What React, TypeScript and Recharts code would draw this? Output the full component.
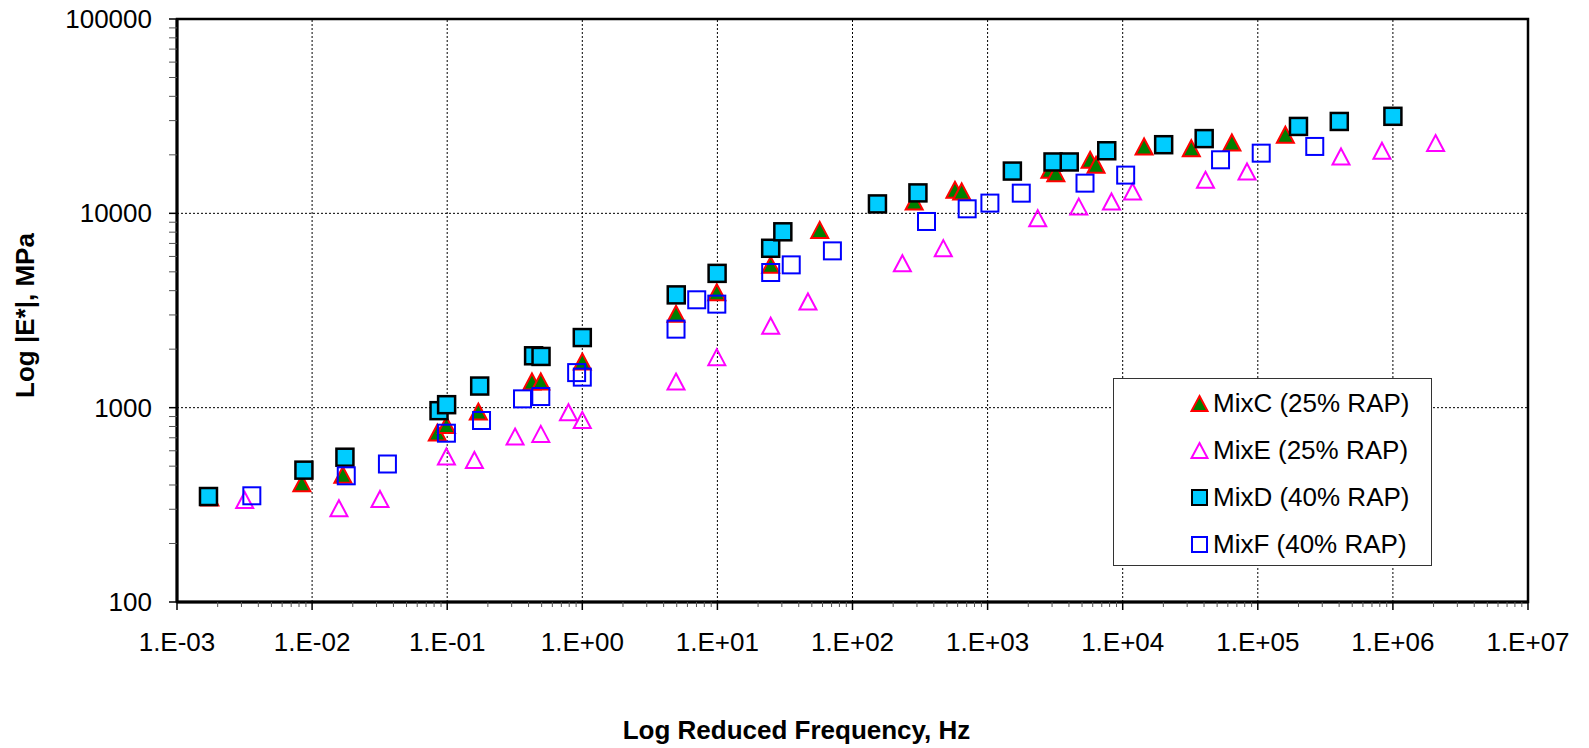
import {
  Legend,
  ReferenceArea,
  ReferenceLine,
  Scatter,
  ScatterChart,
  XAxis,
  YAxis,
} from "recharts";

const FONT = "'Liberation Sans', Arial, sans-serif";

// reduced frequency (Hz) and |E*| (MPa)
const mixCFreq = [0.00175, 0.0084, 0.0169, 0.0845, 0.0987, 0.17, 0.424, 0.493, 1.0, 4.94, 9.9, 24.8, 57.2, 286, 573, 643, 2890, 3200, 5740, 6350, 14400, 32200, 64300, 160000];
const mixCMod = [345, 408, 451, 744, 815, 955, 1364, 1364, 1727, 3040, 3930, 5430, 8220, 11510, 13210, 12960, 16760, 16100, 18850, 17780, 22090, 21640, 23160, 25380];

const mixEFreq = [0.00317, 0.0158, 0.0318, 0.0987, 0.159, 0.318, 0.493, 0.79, 1.0, 4.94, 9.9, 24.8, 46.8, 234, 470, 2350, 4730, 8260, 11830, 41000, 83200, 413000, 830000, 2070000];
const mixEMod = [335, 304, 339, 561, 538, 710, 733, 948, 865, 1362, 1820, 2640, 3520, 5540, 6620, 9440, 10830, 11510, 12960, 14880, 16420, 19630, 20990, 23000];

const mixDFreq = [0.00171, 0.0087, 0.0175, 0.087, 0.099, 0.174, 0.436, 0.495, 1.0, 4.96, 9.95, 24.8, 30.5, 153, 305, 1525, 3050, 4020, 7620, 20100, 40100, 200000, 401000, 1000000];
const mixDMod = [349, 477, 556, 965, 1036, 1292, 1849, 1835, 2295, 3805, 4910, 6610, 8035, 11180, 12740, 16500, 18380, 18380, 20990, 22550, 24240, 28000, 29700, 31570];

const mixFFreq = [0.00358, 0.0179, 0.0361, 0.0987, 0.1795, 0.361, 0.493, 0.908, 1.0, 4.94, 7.03, 9.9, 24.8, 35.2, 71, 353, 706, 1040, 1775, 5260, 10520, 53000, 106000, 264000];
const mixFMod = [352, 446, 513, 739, 859, 1110, 1141, 1515, 1436, 2535, 3590, 3410, 4960, 5430, 6410, 9080, 10550, 11290, 12700, 14300, 15730, 18860, 20400, 22090];

const xMajor = [1e-3, 1e-2, 1e-1, 1, 10, 100, 1e3, 1e4, 1e5, 1e6, 1e7];
const yMajor = [100, 1000, 10000, 100000];
const minorSteps = [2, 3, 4, 5, 6, 7, 8, 9];

const withMinor = (major: number[]) =>
  major.flatMap((m, i) => (i === major.length - 1 ? [m] : [m, ...minorSteps.map((s) => m * s)]));

const zip = (xs: number[], ys: number[]) => xs.map((x, i) => ({ x, y: ys[i] }));

const fmtX = (v: number) => {
  const e = Math.round(Math.log10(v));
  return `1.E${e < 0 ? "-" : "+"}${String(Math.abs(e)).padStart(2, "0")}`;
};

function XTick({ x, y, payload }: any) {
  const major = xMajor.includes(payload.value);
  return (
    <g>
      <line x1={x} x2={x} y1={y} y2={y + (major ? 8 : 5)} stroke={major ? "#000" : "#555"} strokeWidth={major ? 1.5 : 1} />
      {major && (
        <text x={x} y={y + 40} dy="0.35em" textAnchor="middle" fontSize={26} fontFamily={FONT} fill="#000">
          {fmtX(payload.value)}
        </text>
      )}
    </g>
  );
}

function YTick({ x, y, payload }: any) {
  const major = yMajor.includes(payload.value);
  return (
    <g>
      <line x1={x - 8} x2={x} y1={y} y2={y} stroke={major ? "#000" : "#555"} strokeWidth={major ? 1.5 : 1} />
      {major && (
        <text x={x - 25} y={y} dy="0.35em" textAnchor="end" fontSize={26} fontFamily={FONT} fill="#000">
          {payload.value}
        </text>
      )}
    </g>
  );
}

const triangle = (fill: string, stroke: string, w = 17, h = 16) => (p: any) => (
  <polygon
    points={`${p.cx},${p.cy - h / 2} ${p.cx + w / 2},${p.cy + h / 2} ${p.cx - w / 2},${p.cy + h / 2}`}
    fill={fill}
    stroke={stroke}
    strokeWidth={2}
  />
);

const square = (fill: string, stroke: string, s = 17, sw = 2) => (p: any) => (
  <rect x={p.cx - s / 2} y={p.cy - s / 2} width={s} height={s} fill={fill} stroke={stroke} strokeWidth={sw} />
);

const series = [
  { name: "MixC (25% RAP)", data: zip(mixCFreq, mixCMod), shape: triangle("#007F00", "#FF0000"), icon: triangle("#007F00", "#FF0000", 16, 15) },
  { name: "MixE (25% RAP)", data: zip(mixEFreq, mixEMod), shape: triangle("none", "#FF00FF"), icon: triangle("none", "#FF00FF", 16, 15) },
  { name: "MixD (40% RAP)", data: zip(mixDFreq, mixDMod), shape: square("#00CCFF", "#000", 17, 2.5), icon: square("#00CCFF", "#000", 15, 2) },
  { name: "MixF (40% RAP)", data: zip(mixFFreq, mixFMod), shape: square("none", "#0000FF"), icon: square("none", "#0000FF", 15, 2) },
];

function LegendBox() {
  return (
    <div
      style={{
        boxSizing: "border-box",
        width: 319,
        height: 188,
        border: "1px solid #333",
        background: "#fff",
        paddingTop: 1,
        fontFamily: FONT,
        fontSize: 26,
        color: "#000",
      }}
    >
      {series.map((s) => (
        <div key={s.name} style={{ height: 47, display: "flex", alignItems: "center", paddingLeft: 76 }}>
          <svg width={19} height={19} style={{ overflow: "visible" }}>
            {s.icon({ cx: 9.5, cy: 9.5 })}
          </svg>
          <span style={{ marginLeft: 4, whiteSpace: "nowrap" }}>{s.name}</span>
        </div>
      ))}
    </div>
  );
}

export default function App() {
  return (
    <div style={{ position: "absolute", left: 0, top: 0, background: "#fff" }}>
      <ScatterChart width={1589} height={748} margin={{ top: 19, right: 61, left: 0, bottom: 0 }}>
        <XAxis
          type="number"
          dataKey="x"
          scale="log"
          domain={[1e-3, 1e7]}
          allowDataOverflow
          ticks={withMinor(xMajor)}
          interval={0}
          tickSize={0}
          tickMargin={0}
          tickLine={false}
          tick={<XTick />}
          height={146}
          axisLine={{ stroke: "#000", strokeWidth: 3 }}
          label={{
            content: ({ viewBox }: any) => (
              <text
                x={viewBox.x + viewBox.width / 2 - 56}
                y={viewBox.y + viewBox.height - 9}
                textAnchor="middle"
                fontSize={26}
                fontWeight="bold"
                fontFamily={FONT}
                fill="#000"
              >
                Log Reduced Frequency, Hz
              </text>
            ),
          }}
        />
        <YAxis
          type="number"
          dataKey="y"
          scale="log"
          domain={[100, 100000]}
          allowDataOverflow
          ticks={withMinor(yMajor)}
          interval={0}
          tickSize={0}
          tickMargin={0}
          tickLine={false}
          tick={<YTick />}
          width={177}
          axisLine={{ stroke: "#000", strokeWidth: 3 }}
          label={{
            content: ({ viewBox }: any) => {
              const cx = viewBox.x + 24.5;
              const cy = viewBox.y + viewBox.height / 2 + 5;
              return (
                <text
                  x={cx}
                  y={cy}
                  dy="0.35em"
                  transform={`rotate(-90 ${cx} ${cy})`}
                  textAnchor="middle"
                  fontSize={26}
                  fontWeight="bold"
                  fontFamily={FONT}
                  fill="#000"
                >
                  Log |E*|, MPa
                </text>
              );
            },
          }}
        />
        {xMajor.slice(1, -1).map((v) => (
          <ReferenceLine key={`gx${v}`} x={v} stroke="#000" strokeWidth={1} strokeDasharray="2 2" />
        ))}
        {yMajor.slice(1, -1).map((v) => (
          <ReferenceLine key={`gy${v}`} y={v} stroke="#000" strokeWidth={1} strokeDasharray="2 2" />
        ))}
        <ReferenceArea x1={1e-3} x2={1e7} y1={100} y2={100000} fill="none" fillOpacity={0} stroke="#000" strokeWidth={2.5} />
        {series.map((s) => (
          <Scatter key={s.name} name={s.name} data={s.data} shape={s.shape} isAnimationActive={false} />
        ))}
        <Legend
          layout="vertical"
          align="center"
          verticalAlign="middle"
          wrapperStyle={{ left: 1113, top: 378, width: 319, height: 188 }}
          content={() => <LegendBox />}
        />
      </ScatterChart>
    </div>
  );
}
